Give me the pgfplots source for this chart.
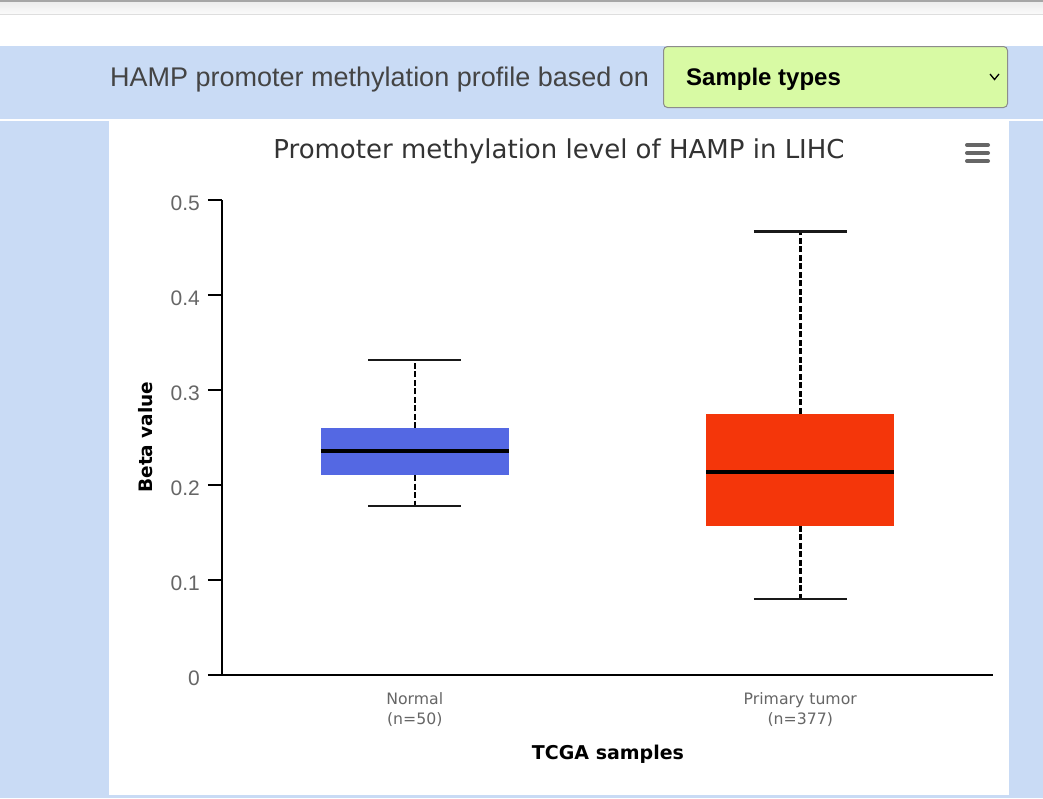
\documentclass[border=0pt]{standalone}
\usepackage{pgfplots}
\pgfplotsset{compat=1.18}
\usepgfplotslibrary{statistics}
\usepackage{fontspec}
\setmainfont{Liberation Sans}
\newfontfamily\chartfont{DejaVu Sans}
\definecolor{pageblue}{HTML}{C9DBF5}
\definecolor{ddgreen}{HTML}{D8FAA4}
\definecolor{nblue}{HTML}{5468E3}
\definecolor{tred}{HTML}{F4360A}
\definecolor{txtgray}{HTML}{666666}
\definecolor{hdrgray}{HTML}{444444}
\definecolor{ttlgray}{HTML}{333333}
\begin{document}
\begin{tikzpicture}[x=1pt,y=1pt]
\useasboundingbox (0,0) rectangle (1043,-798);
\fill[white] (0,0) rectangle (1043,-798);
% browser strip
\fill[black!35] (0,0) rectangle (1043,-2);
\shade[top color=black!7, bottom color=black!2] (0,-2) rectangle (1043,-14);
\fill[black!13] (0,-14) rectangle (1043,-15);
% page background
\fill[pageblue] (0,-46) rectangle (1043,-119);
\fill[pageblue] (0,-121) rectangle (1043,-798);
\fill[white] (109,-121) rectangle (1009,-795);
% header
\node[anchor=base west, inner sep=0pt, text=hdrgray, font=\fontsize{27}{30}\selectfont] at (110,-86) {HAMP promoter methylation profile based on};
\draw[fill=ddgreen, draw=black!45, line width=1, rounded corners=4] (663.5,-46.5) rectangle (1007.5,-107.5);
\node[anchor=base west, inner sep=0pt, font=\fontsize{24}{28}\selectfont\bfseries] at (686,-85) {Sample types};
\draw[line width=1.3] (990,-74) -- (994.5,-79.5) -- (999,-74);
% menu icon
\foreach \yy in {145,153,161} \draw[txtgray, line width=4, line cap=round] (967,-\yy) -- (988,-\yy);
% title
\node[anchor=base, inner sep=0pt, text=ttlgray, font=\chartfont\fontsize{26}{30}\selectfont] at (559,-158) {Promoter methylation level of HAMP in LIHC};
% axis titles
\node[anchor=base, rotate=90, inner sep=0pt, font=\chartfont\bfseries\fontsize{18.5}{22}\selectfont] at (152,-437) {Beta value};
\node[anchor=base, inner sep=0pt, font=\chartfont\bfseries\fontsize{19}{22}\selectfont] at (608,-759) {TCGA samples};
\begin{axis}[
  at={(222pt,-675pt)}, anchor=south west,
  scale only axis, width=771pt, height=475pt,
  xmin=-0.5, xmax=1.5, ymin=0, ymax=0.5,
  axis x line*=bottom, axis y line*=left,
  axis line style={black, line width=1.8pt},
  xtick={0,1},
  xticklabels={{Normal\\(n=50)},{Primary tumor\\(n=377)}},
  xticklabel style={align=center, anchor=north, inner sep=0pt, yshift=-3pt, text=txtgray, font=\chartfont\fontsize{15.7}{20}\selectfont},
  xtick style={draw=none},
  ytick={0,0.1,0.2,0.3,0.4,0.5},
  yticklabels={0,0.1,0.2,0.3,0.4,0.5},
  /pgf/number format/assume math mode=true,
  yticklabel style={anchor=east, inner sep=0pt, xshift=-8pt, yshift=-3pt, text=txtgray, font=\fontsize{21}{25}\selectfont},
  tick align=outside, major tick length=14pt,
  ytick style={black, line width=1.6pt},
  boxplot/draw direction=y,
  boxplot/draw/lower whisker/.code={
    \draw[black, line width=2.5pt, dash pattern=on 6pt off 2.5pt] (boxplot cs:\pgfplotsboxplotvalue{lower quartile}) -- (boxplot cs:\pgfplotsboxplotvalue{lower whisker});
    \draw[black!90, line width=2.6pt] (boxplot whisker cs:\pgfplotsboxplotvalue{lower whisker},0) -- (boxplot whisker cs:\pgfplotsboxplotvalue{lower whisker},1);
  },
  boxplot/draw/upper whisker/.code={
    \draw[black, line width=2.5pt, dash pattern=on 6pt off 2.5pt] (boxplot cs:\pgfplotsboxplotvalue{upper quartile}) -- (boxplot cs:\pgfplotsboxplotvalue{upper whisker});
    \draw[black!90, line width=2.6pt] (boxplot whisker cs:\pgfplotsboxplotvalue{upper whisker},0) -- (boxplot whisker cs:\pgfplotsboxplotvalue{upper whisker},1);
  },
  boxplot/every median/.style={draw=black, line width=3.6pt},
]
\addplot[boxplot prepared={draw position=0, lower whisker=0.178, lower quartile=0.2105, median=0.236, upper quartile=0.26, upper whisker=0.3316, box extend=0.488, whisker extend=0.241, every box/.style={draw=none, fill=nblue}}] coordinates {};
\addplot[boxplot prepared={draw position=1, lower whisker=0.080, lower quartile=0.157, median=0.2137, upper quartile=0.275, upper whisker=0.467, box extend=0.488, whisker extend=0.241, every box/.style={draw=none, fill=tred}}] coordinates {};
\end{axis}
\end{tikzpicture}
\end{document}
